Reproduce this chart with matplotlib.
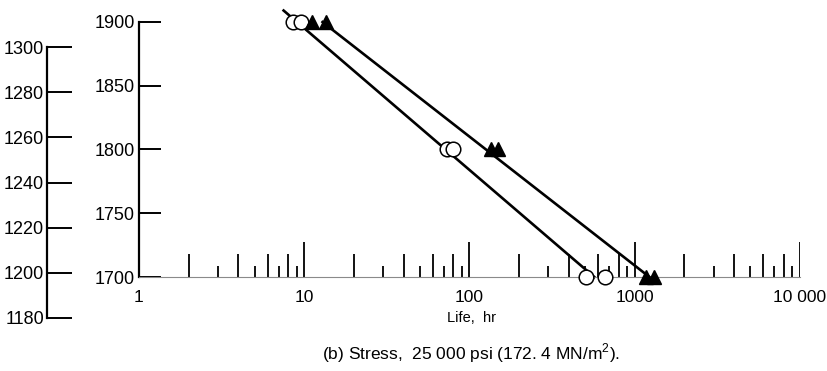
import matplotlib
matplotlib.use("Agg")
import matplotlib.pyplot as plt
import numpy as np

# rupture life data, stress 25 000 psi
temp_f = [1900, 1900, 1800, 1800, 1700, 1700]
life_circle = [8.6, 9.5, 73, 80, 509, 663]
life_triangle = [11.1, 13.5, 135, 149, 1175, 1315]

# faired lines through each set
fit_circle_temp = [1909, 1700]
fit_circle_life = [7.5, 569]
fit_triangle_temp = [1900, 1700]
fit_triangle_life = [12.9, 1227]

x_ticks = [1, 10, 100, 1000, 10000]
x_tick_labels = ["1", "10", "100", "1000", "10 000"]
y_ticks_f = [1700, 1750, 1800, 1850, 1900]
y_ticks_k = [1180, 1200, 1220, 1240, 1260, 1280, 1300]

plt.rcParams["font.family"] = ["Liberation Sans", "DejaVu Sans"]
plt.rcParams["mathtext.fontset"] = "custom"
plt.rcParams["mathtext.rm"] = "Liberation Sans"

W, H = 828, 371
fig = plt.figure(figsize=(W / 100, H / 100), dpi=100)

# main axes: log life vs temperature (F)
ax = fig.add_axes([139 / W, 1 - 277 / H, 661 / W, 255 / H])
ax.set_xscale("log")
ax.set_xlim(1, 10000)
ax.set_ylim(1700, 1900)
for s in ("top", "right"):
    ax.spines[s].set_visible(False)
ax.spines["left"].set_linewidth(1.6)
ax.spines["bottom"].set_linewidth(0.8)
ax.spines["bottom"].set_color("#8a8a8a")

ax.plot(fit_circle_life, fit_circle_temp, color="black", lw=1.9, clip_on=False, zorder=2)
ax.plot(fit_triangle_life, fit_triangle_temp, color="black", lw=1.9, clip_on=False, zorder=2)
ax.plot(life_circle, temp_f, ls="none", marker="o", ms=10.5, mfc="white", mec="black",
        mew=1.1, clip_on=False, zorder=3)
ax.plot(life_triangle, temp_f, ls="none", marker="^", ms=10.5, color="black",
        clip_on=False, zorder=3)

# x ticks drawn inside, long at decades, alternating short/medium in between
ax.set_xticks(x_ticks)
ax.set_xticklabels(x_tick_labels)
ax.set_xticks([], minor=True)
ax.tick_params(axis="x", length=0, pad=9, labelsize=12.5)
decades = [1, 10, 100, 1000]
for d in decades:
    for m in range(2, 10):
        h = 0.09 if m % 2 == 0 else 0.043
        ax.vlines(d * m, 0, h, transform=ax.get_xaxis_transform(), color="black", lw=1.3)
for d in x_ticks[1:]:
    ax.vlines(d, 0, 0.137, transform=ax.get_xaxis_transform(), color="black", lw=1.3)

ax.set_yticks(y_ticks_f)
ax.tick_params(axis="y", direction="in", length=16, width=1.4, pad=3, labelsize=13)

fig.text(472 / W, 1 - 318 / H, "Life,  hr", ha="center", va="center", fontsize=10.5)
fig.text(471 / W, 1 - 353 / H, "(b) Stress,  25 000 psi (172. 4 MN/m$^2$).",
         ha="center", va="center", fontsize=12.5)

# outer axis: temperature in K
ax2 = fig.add_axes([47 / W, 1 - 318 / H, 0.001, 271 / H])
ax2.set_ylim(1180, 1300)
ax2.set_xticks([])
for s in ("top", "right", "bottom"):
    ax2.spines[s].set_visible(False)
ax2.spines["left"].set_linewidth(1.6)
ax2.set_yticks(y_ticks_k)
ax2.tick_params(axis="y", direction="in", length=18, width=1.4, pad=2, labelsize=13)
ax2.patch.set_visible(False)

fig.savefig("out.png", dpi=100)
